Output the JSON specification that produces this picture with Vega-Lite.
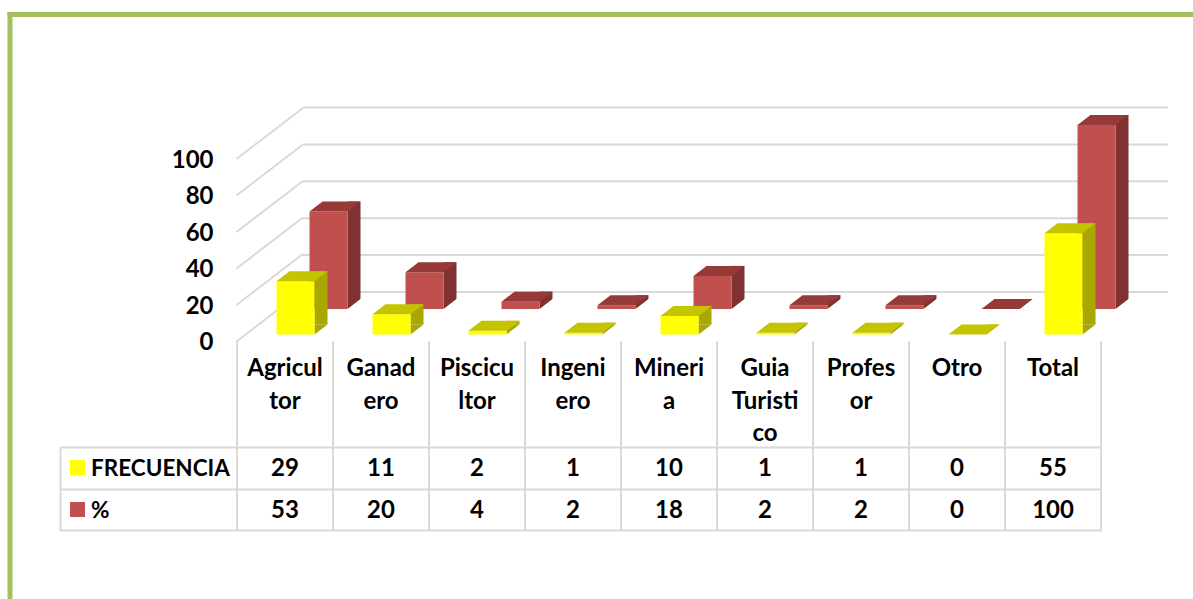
{
"$schema":"https://vega.github.io/schema/vega-lite/v6.json",
"width":1193,"height":599,"padding":0,"autosize":{"type":"none"},"background":"white",
"config":{"view":{"stroke":null},"text":{"font":"Lato","fontWeight":"bold","color":"black"}},
"datasets":{
"rows":[
{"cat":"Agricultor","head":"Agricul\ntor","frecuencia":29,"pct":53},
{"cat":"Ganadero","head":"Ganad\nero","frecuencia":11,"pct":20},
{"cat":"Piscicultor","head":"Piscicu\nltor","frecuencia":2,"pct":4},
{"cat":"Ingeniero","head":"Ingeni\nero","frecuencia":1,"pct":2},
{"cat":"Mineria","head":"Mineri\na","frecuencia":10,"pct":18},
{"cat":"Guia Turistico","head":"Guia\nTuristi\nco","frecuencia":1,"pct":2},
{"cat":"Profesor","head":"Profes\nor","frecuencia":1,"pct":2},
{"cat":"Otro","head":"Otro","frecuencia":0,"pct":0},
{"cat":"Total","head":"Total","frecuencia":55,"pct":100}],
"ticks":[{"v":0},{"v":20},{"v":40},{"v":60},{"v":80},{"v":100}],
"one":[{"k":1}],
"series":[{"name":"FRECUENCIA"},{"name":"%"}]
},
"data":{"name":"rows"},
"encoding":{"x":{"field":"cat","type":"nominal","sort":null,"axis":null,"scale":{"domain":["Agricultor","Ganadero","Piscicultor","Ingeniero","Mineria","Guia Turistico","Profesor","Otro","Total"],"range":[237,1101],"paddingInner":0,"paddingOuter":0}}},
"resolve":{"scale":{"y":"independent"},"axis":{"y":"independent"}},
"layer":[
{"data":{"name":"one"},"mark":{"type":"rule","color":"#A2C05F","strokeWidth":5},"encoding":{"x":{"value":7.5},"x2":{"value":1193},"y":{"value":14.5}}},
{"data":{"name":"one"},"mark":{"type":"rule","color":"#A2C05F","strokeWidth":5},"encoding":{"x":{"value":10},"y":{"value":12},"y2":{"value":599}}},

{"data":{"name":"ticks"},"mark":{"type":"rule","color":"#D9D9D9","strokeWidth":2,"y2Offset":-51},"encoding":{"x":{"value":236.5},"x2":{"value":303},"y":{"field":"v","type":"quantitative","scale":{"domain":[0,100],"range":[341.5,159],"nice":false},"axis":{"values":[0,20,40,60,80,100],"offset":-237,"domain":false,"ticks":false,"grid":false,"title":null,"labelPadding":24,"labelOffset":1,"labelFont":"Lato","labelFontWeight":"bold","labelFontSize":24,"labelColor":"black"}},"y2":{"field":"v"}}},
{"data":{"name":"ticks"},"mark":{"type":"rule","color":"#D9D9D9","strokeWidth":2},"encoding":{"x":{"value":303},"x2":{"value":1168},"y":{"field":"v","type":"quantitative","scale":{"domain":[0,100],"range":[292,107.5],"nice":false},"axis":null}}},

{"mark":{"type":"bar","color":"#7F3230","width":13,"xOffset":69},"encoding":{"y":{"field":"pct","type":"quantitative","scale":{"domain":[0,100],"range":[299,115],"nice":false},"axis":null}}},
{"mark":{"type":"point","shape":"M19,-10L32,-10L19,0Z","size":4,"filled":true,"fill":"#7F3230","strokeWidth":0,"opacity":1,"xOffset":43.5},"encoding":{"y":{"datum":0,"type":"quantitative","scale":{"domain":[0,100],"range":[309,125],"nice":false},"axis":null}}},
{"mark":{"type":"bar","color":"#C0504D","width":38,"xOffset":43.5},"encoding":{"y":{"field":"pct","type":"quantitative","scale":{"domain":[0,100],"range":[309,125],"nice":false},"axis":null}}},
{"mark":{"type":"point","shape":"M-19,0L19,0L32,-10L-6,-10Z","size":4,"filled":true,"fill":"#953A38","strokeWidth":0,"opacity":1,"xOffset":43.5},"encoding":{"y":{"field":"pct","type":"quantitative","scale":{"domain":[0,100],"range":[309,125],"nice":false},"axis":null}}},

{"mark":{"type":"bar","color":"#A8A800","width":13,"xOffset":36},"encoding":{"y":{"field":"frecuencia","type":"quantitative","scale":{"domain":[0,100],"range":[324.5,140.5],"nice":false},"axis":null}}},
{"mark":{"type":"point","shape":"M19,-10L32,-10L19,0Z","size":4,"filled":true,"fill":"#A8A800","strokeWidth":0,"opacity":1,"xOffset":10.5},"encoding":{"y":{"datum":0,"type":"quantitative","scale":{"domain":[0,100],"range":[334.5,150.5],"nice":false},"axis":null}}},
{"mark":{"type":"bar","color":"#FFFF00","width":38,"xOffset":10.5},"encoding":{"y":{"field":"frecuencia","type":"quantitative","scale":{"domain":[0,100],"range":[334.5,150.5],"nice":false},"axis":null}}},
{"mark":{"type":"point","shape":"M-19,0L19,0L32,-10L-6,-10Z","size":4,"filled":true,"fill":"#C4C400","strokeWidth":0,"opacity":1,"xOffset":10.5},"encoding":{"y":{"field":"frecuencia","type":"quantitative","scale":{"domain":[0,100],"range":[334.5,150.5],"nice":false},"axis":null}}},

{"mark":{"type":"rule","color":"#D9D9D9","strokeWidth":2},"encoding":{"x":{"field":"cat","type":"nominal","sort":null,"bandPosition":0,"axis":null},"y":{"value":341},"y2":{"value":531}}},
{"mark":{"type":"rule","color":"#D9D9D9","strokeWidth":2},"encoding":{"x":{"field":"cat","type":"nominal","sort":null,"bandPosition":1,"axis":null},"y":{"value":341},"y2":{"value":531}}},
{"data":{"name":"one"},"mark":{"type":"rule","color":"#D9D9D9","strokeWidth":2},"encoding":{"x":{"value":60.5},"y":{"value":447},"y2":{"value":531}}},
{"data":{"name":"one"},"mark":{"type":"rule","color":"#D9D9D9","strokeWidth":2},"encoding":{"x":{"value":60},"x2":{"value":1102},"y":{"value":447.5}}},
{"data":{"name":"one"},"mark":{"type":"rule","color":"#D9D9D9","strokeWidth":2},"encoding":{"x":{"value":60},"x2":{"value":1102},"y":{"value":489.5}}},
{"data":{"name":"one"},"mark":{"type":"rule","color":"#D9D9D9","strokeWidth":2},"encoding":{"x":{"value":60},"x2":{"value":1102},"y":{"value":530.5}}},

{"mark":{"type":"text","fontSize":24,"lineBreak":"\n","lineHeight":32.5,"align":"center","baseline":"alphabetic"},"encoding":{"y":{"value":376},"text":{"field":"head"}}},
{"mark":{"type":"text","fontSize":24,"align":"center","baseline":"middle"},"encoding":{"y":{"value":469},"text":{"field":"frecuencia"}}},
{"mark":{"type":"text","fontSize":24,"align":"center","baseline":"middle"},"encoding":{"y":{"value":510.5},"text":{"field":"pct"}}},

{"data":{"name":"series"},"mark":{"type":"square","size":225,"opacity":1},"encoding":{"x":{"value":77.5},"y":{"field":"name","type":"nominal","sort":null,"axis":null,"scale":{"domain":["FRECUENCIA","%"],"range":[467.5,509.5],"padding":0}},"color":{"field":"name","type":"nominal","legend":null,"scale":{"domain":["FRECUENCIA","%"],"range":["#FFFF00","#C0504D"]}}}},
{"data":{"name":"series"},"mark":{"type":"text","fontSize":22.5,"align":"left","baseline":"middle","dy":1},"encoding":{"x":{"value":91},"y":{"field":"name","type":"nominal","sort":null,"axis":null,"scale":{"domain":["FRECUENCIA","%"],"range":[467.5,509.5],"padding":0}},"text":{"field":"name"}}}
]
}
